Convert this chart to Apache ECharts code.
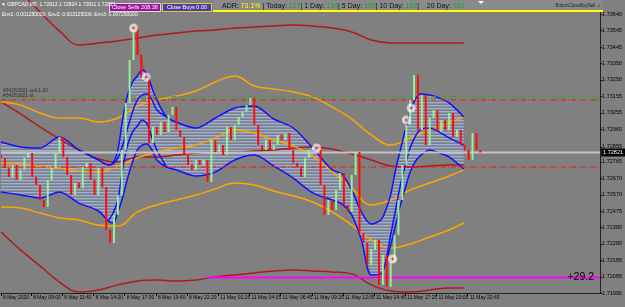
<!DOCTYPE html>
<html><head><meta charset="utf-8">
<script src="https://cdn.jsdelivr.net/npm/echarts@6/dist/echarts.min.js"></script>
<style>html,body{margin:0;padding:0;background:#808080;}#c{width:625px;height:307px;}</style>
</head><body><div id="c"></div>
<script>
// ---------- data ----------
const priceTicks = [1.71990,1.72085,1.72185,1.72280,1.72380,1.72475,1.72570,1.72670,1.72765,1.72855,1.72960,1.73055,1.73155,1.73250,1.73350,1.73445,1.73545,1.73640];
const timeTickBars = [0,31,63,95,127,159,191,223,255,287,319,351,383,415,447,479];
const timeTickLabels = ['8 May 2020','8 May 09:00','8 May 11:40','8 May 14:20','8 May 17:00','8 May 19:40','8 May 22:20','11 May 01:25','11 May 04:05','11 May 06:45','11 May 09:25','11 May 12:05','11 May 14:45','11 May 17:25','11 May 20:05','11 May 22:45'];

const barStep = 4;
const firstOpen = 1.72806;
const closes = [1.72789,1.72729,1.72676,1.72747,1.72659,1.72718,1.72789,1.72818,1.72676,1.72629,
 1.72540,1.72499,1.72659,1.72729,1.72818,1.72913,1.72795,1.72688,1.72570,1.72641,
 1.72611,1.72735,1.72759,1.72659,1.72570,1.72729,1.72617,1.72363,1.72286,1.72452,
 1.72570,1.72836,1.73114,1.73368,1.73557,1.73398,1.73268,1.73250,1.72877,1.72972,
 1.72925,1.73001,1.72942,1.73043,1.73090,1.72954,1.72913,1.72806,1.72747,1.72718,
 1.72777,1.72747,1.72777,1.72647,1.72895,1.72824,1.72865,1.72806,1.72972,1.72895,
 1.72984,1.73031,1.73061,1.73102,1.73143,1.72984,1.72865,1.72836,1.72895,1.72836,
 1.72865,1.72925,1.72895,1.72936,1.72836,1.72759,1.72735,1.72676,1.72789,1.72836,
 1.72854,1.72848,1.72629,1.72452,1.72540,1.72481,1.72599,1.72700,1.72511,1.72469,
 1.72688,1.72824,1.72345,1.72286,1.72156,1.72245,1.72304,1.72038,1.72215,1.72026,
 1.72174,1.72333,1.72540,1.72747,1.72984,1.73132,1.73279,1.72954,1.73161,1.72865,
 1.73025,1.73072,1.72942,1.73013,1.72954,1.73055,1.72913,1.72954,1.72865,1.72836,
 1.72777,1.72936,1.72836,1.72821];

const blueX = [0,20,40,60,80,100,110,115,120,125,130,135,140,145,150,155,160,170,180,200,220,240,260,280,300,320,340,350,360,370,380,390,395,400,405,410,415,420,425,430,440,450,460,475];
const blueUpper = [1.72883,1.72854,1.72848,1.72913,1.72836,1.72777,1.72747,1.72759,1.72836,1.73025,1.73161,1.73238,1.73274,1.73309,1.73285,1.73203,1.73132,1.73031,1.73001,1.72966,1.73025,1.73084,1.73096,1.73019,1.72966,1.72848,1.72718,1.72694,1.72599,1.72469,1.72398,1.72422,1.72481,1.72570,1.72718,1.72836,1.72954,1.73055,1.73132,1.73167,1.73161,1.73143,1.73114,1.73031];
const blueLower = [1.72588,1.72570,1.72552,1.72588,1.72522,1.72475,1.72416,1.72404,1.72469,1.72558,1.72670,1.72765,1.72836,1.72865,1.72871,1.72836,1.72777,1.72735,1.72718,1.72682,1.72706,1.72777,1.72806,1.72741,1.72670,1.72582,1.72540,1.72517,1.72452,1.72304,1.72097,1.72103,1.72174,1.72274,1.72392,1.72511,1.72611,1.72706,1.72765,1.72800,1.72836,1.72818,1.72795,1.72724];
const blueInnerA = [null,null,null,null,null,null,1.72747,1.72753,1.72789,1.72865,1.72966,1.73061,1.73132,1.73161,1.73167,1.73132,1.73072,1.73031,null,null,null,null,null,null,null,null,null,null,null,null,null,null,null,null,null,null,null,null,null,null,null,null,null,null];
const blueInnerB = [null,null,null,null,null,null,1.72416,1.72463,1.72540,1.72729,1.72865,1.72942,1.72978,1.73013,1.72990,1.72907,1.72836,1.72735,null,null,null,null,null,null,null,null,null,null,null,null,null,null,1.72174,1.72333,1.72481,1.72629,1.72747,1.72848,1.72913,1.72954,1.72966,1.72942,1.72907,1.72865];

const slowX = [0,20,40,60,80,100,120,140,160,180,200,220,240,260,280,300,320,340,360,380,400,420,440,460,475];
const orangeUpper = [1.73120,1.73102,1.73055,1.73025,1.73025,1.73001,1.73025,1.73096,1.73132,1.73155,1.73185,1.73238,1.73274,1.73214,1.73197,1.73179,1.73149,1.73090,1.73019,1.72925,1.72865,1.72907,1.72954,1.72996,1.73031];
const orangeMid = [1.72759,1.72753,1.72741,1.72729,1.72712,1.72706,1.72741,1.72789,1.72824,1.72848,1.72865,1.72907,1.72954,1.72936,1.72895,1.72860,1.72800,1.72706,1.72611,1.72511,1.72540,1.72599,1.72641,1.72682,1.72718];
const orangeLower = [1.72499,1.72493,1.72463,1.72434,1.72422,1.72392,1.72386,1.72469,1.72511,1.72540,1.72570,1.72605,1.72641,1.72629,1.72593,1.72564,1.72528,1.72469,1.72392,1.72304,1.72256,1.72280,1.72321,1.72363,1.72404];
const redUpper = [1.73877,1.73770,1.73652,1.73540,1.73457,1.73469,1.73481,1.73498,1.73516,1.73528,1.73540,1.73546,1.73557,1.73563,1.73569,1.73575,1.73569,1.73557,1.73534,1.73486,1.73469,1.73469,1.73469,1.73469,1.73469];
const redMid = [1.73120,1.73049,1.72972,1.72901,1.72836,1.72783,1.72765,1.72795,1.72795,1.72806,1.72818,1.72824,1.72824,1.72830,1.72836,1.72848,1.72854,1.72842,1.72812,1.72777,1.72741,1.72735,1.72741,1.72747,1.72747];
const redLower = [1.72351,1.72245,1.72150,1.72055,1.71996,1.72008,1.72038,1.72061,1.72067,1.72061,1.72067,1.72085,1.72097,1.72109,1.72120,1.72126,1.72120,1.72114,1.72103,1.72038,1.72002,1.71996,1.72008,1.72020,1.72020];

const bidPrice = 1.72821;
const levelGreen = 1.73151;
const levelRed1 = 1.73132;
const levelRed2 = 1.72735;
const profitPrice = 1.72082;
const profitStartBar = 211;
const profitText = '+29.2';
const tradeBars = [136,149,324,402,416,421];
const tradePrices = [1.73557,1.73268,1.72848,1.72191,1.73013,1.73084];
const tradeLink = [0,1];

const symbolText = '\u25BC GBPCAD,M5  1.72813 1.72824 1.72811 1.72821';
const envText = 'Env1: 0.001250000; Env2: 0.003125000; Env3: 0.007250000';
const orderLabels = ['#34283021 sell 1.00', '#34283021 sl'];

// ---------- build ----------
const FONT = 'Liberation Sans';
const X_MAX = 615;
const zip = (xs, ys) => xs.map((x, i) => [x, ys[i] == null ? '-' : ys[i]]);
const candles = closes.map((c, i) => [i * barStep, i === 0 ? firstOpen : closes[i - 1], c]);

const pc = document.createElement('canvas');
pc.width = 4; pc.height = 3;
const pctx = pc.getContext('2d');
pctx.fillStyle = 'rgba(160,185,235,0.85)'; pctx.fillRect(0, 0, 4, 1);
pctx.fillStyle = 'rgba(160,185,235,0.3)'; pctx.fillRect(0, 1, 4, 1);

function lineS(data, color, width, z, extra) {
  return Object.assign({type:'line', data, showSymbol:false, symbol:'none', silent:true, z,
    lineStyle:{color, width}, animation:false}, extra || {});
}
function hLine(price, x0, color, width, type, z, extra) {
  return lineS([[x0, price], [X_MAX, price]], color, width, z, Object.assign({lineStyle:{color, width, type}}, extra || {}));
}

const chart = echarts.init(document.getElementById('c'), null, {renderer:'canvas'});
chart.setOption({
  animation:false,
  backgroundColor:'#808080',
  grid:{left:0, right:23, top:0, bottom:14, containLabel:false},
  xAxis:{type:'value', min:0, max:X_MAX,
    axisLine:{show:true, onZero:false, lineStyle:{color:'#202020', width:1}},
    axisTick:{show:true, customValues: timeTickBars, length:3, lineStyle:{color:'#000'}},
    axisLabel:{customValues: timeTickBars, formatter: v => timeTickLabels[timeTickBars.indexOf(v)] || '',
      align:'left', fontSize:5, color:'#000', margin:2, fontFamily:FONT, padding:[0,0,0,2]},
    splitLine:{show:false}},
  yAxis:{type:'value', position:'right', min:1.71990, max:1.73723,
    axisLine:{show:true, onZero:false, lineStyle:{color:'#202020', width:1}},
    axisTick:{show:true, customValues: priceTicks, length:2, lineStyle:{color:'#000'}},
    axisLabel:{customValues: priceTicks, formatter: v => v.toFixed(5), fontSize:5.5, color:'#000', margin:2, fontFamily:FONT},
    splitLine:{show:false}},
  graphic:[
    {type:'rect', shape:{x:213, y:0, width:390, height:11}, style:{fill:'#8a8a8a'}, z:100},
    {type:'rect', shape:{x:213, y:10, width:390, height:2}, style:{fill:'#ffff00'}, z:101},
    {type:'text', x:222, y:2.5, z:102, style:{
      text:'{k|ADR:} {y|73.1%} {k|| Today:} {g|127}{k|| 1 Day:} {g|134}{k|| 5 Day:} {g|159}{k|| 10 Day:} {g|162}{k||    20 Day:} {g|162}',
      fontSize:7, fontFamily:FONT, verticalAlign:'top',
      rich:{k:{fill:'#101010', fontSize:7, fontFamily:FONT}, y:{fill:'#ffff00', fontSize:7, fontFamily:FONT}, g:{fill:'#18a818', fontSize:7, fontFamily:FONT}}}},
    {type:'text', x:601, y:5.5, z:102, style:{text:'ButtonCloseBuySell \u263A', fill:'#202020', fontSize:4.5, fontFamily:FONT, align:'right', verticalAlign:'middle'}},
    {type:'polygon', shape:{points:[[478,1],[484,1],[481,4]]}, style:{fill:'#ffffff'}, z:102},
    {type:'rect', shape:{x:109.5, y:3.5, width:51, height:8}, style:{fill:'#9c149a', stroke:'#e6d2e6', lineWidth:1}, z:100},
    {type:'text', x:135, y:7.5, z:102, style:{text:'Close Sells 208.38', fill:'#ffffff', fontSize:5.5, fontFamily:FONT, align:'center', verticalAlign:'middle'}},
    {type:'rect', shape:{x:162.5, y:3.5, width:49, height:8}, style:{fill:'#4b3e9e', stroke:'#d8d040', lineWidth:1}, z:100},
    {type:'text', x:187, y:7.5, z:102, style:{text:'Close Buys 0.00', fill:'#ffffff', fontSize:5.5, fontFamily:FONT, align:'center', verticalAlign:'middle'}},
    {type:'text', x:1, y:2, z:102, style:{text:symbolText, fill:'#ffffff', fontSize:5, fontFamily:FONT, verticalAlign:'top'}},
    {type:'text', x:2, y:12, z:102, style:{text:envText, fill:'#ffffff', fontSize:5, fontFamily:FONT, verticalAlign:'top'}},
    {type:'text', x:3, y:88.5, z:102, style:{text:orderLabels[0], fill:'#303030', fontSize:5, fontFamily:FONT, verticalAlign:'top'}},
    {type:'text', x:3, y:93.5, z:102, style:{text:orderLabels[1], fill:'#303030', fontSize:5, fontFamily:FONT, verticalAlign:'top'}},
    {type:'text', x:594, y:277, z:102, style:{text:profitText, fill:'#000000', fontSize:10.5, fontFamily:FONT, align:'right', verticalAlign:'middle'}}
  ],
  series:[
    {type:'custom', z:1, silent:true, clip:true, data:[[blueX[0], blueUpper[0]]],
      renderItem:(params, api) => {
        const pts = [];
        for (let i = 0; i < blueX.length; i++) pts.push(api.coord([blueX[i], blueUpper[i]]));
        for (let i = blueX.length - 1; i >= 0; i--) pts.push(api.coord([blueX[i], blueLower[i]]));
        return {type:'polygon', shape:{points:pts}, style:{fill:{image:pc, repeat:'repeat'}}};
      }},
    lineS(zip(slowX, redUpper), '#b01a1a', 1.5, 2, {smooth:0.4}),
    lineS(zip(slowX, redMid), '#b01a1a', 1.5, 2, {smooth:0.4}),
    lineS(zip(slowX, redLower), '#b01a1a', 1.5, 2, {smooth:0.4}),
    lineS(zip(slowX, orangeUpper), '#ffa500', 1.5, 2, {smooth:0.4}),
    lineS(zip(slowX, orangeMid), '#ffa500', 1.5, 2, {smooth:0.4}),
    lineS(zip(slowX, orangeLower), '#ffa500', 1.5, 2, {smooth:0.4}),
    lineS(zip(blueX, blueUpper), '#1010ff', 1.5, 3, {smooth:0.3}),
    lineS(zip(blueX, blueLower), '#1010ff', 1.5, 3, {smooth:0.3}),
    lineS(zip(blueX, blueInnerA), '#1010ff', 1.5, 3, {smooth:0.3}),
    lineS(zip(blueX, blueInnerB), '#1010ff', 1.5, 3, {smooth:0.3}),
    hLine(bidPrice, 0, '#c4c4c4', 2, 'solid', 4, {
      endLabel:{show:true, formatter: () => bidPrice.toFixed(5), backgroundColor:'#000', color:'#fff',
        fontSize:5.5, fontFamily:FONT, padding:[1,2], distance:1}}),
    hLine(levelGreen, 0, '#28b028', 1, [5,2,1,2], 4),
    hLine(levelRed1, 0, '#ff1010', 1, [5,2,1,2], 4),
    hLine(levelRed2, 0, '#ff1010', 1, [5,2,1,2], 4),
    hLine(profitPrice, profitStartBar, '#ff00ff', 2, 'solid', 4),
    {type:'custom', z:5, silent:true, clip:true, data:candles, encode:{x:0, y:[1,2]},
      renderItem:(params, api) => {
        const x = api.value(0), o = api.value(1), c = api.value(2);
        const a = api.coord([x, o]), b = api.coord([x, c]);
        const w = Math.max(1, api.size([barStep, 0])[0] * 0.5);
        const top = Math.min(a[1], b[1]);
        const h = Math.max(1, Math.abs(a[1] - b[1]));
        return {type:'rect', shape:{x:a[0] - w / 2, y:top, width:w, height:h},
          style:{fill: c >= o ? '#98f098' : '#ff0a0a'}};
      }},
    {type:'line', z:6, silent:true, symbol:'none',
      data: tradeLink.map(i => [tradeBars[i], tradePrices[i]]),
      lineStyle:{color:'#ff0000', width:1, type:'dotted'}},
    {type:'scatter', z:7, silent:true, symbol:'circle', symbolSize:9,
      data: tradeBars.map((b, i) => [b, tradePrices[i]]),
      itemStyle:{color:'rgba(255,255,255,0.8)'}},
    {type:'scatter', z:8, silent:true, symbol:'diamond', symbolSize:3,
      data: tradeBars.map((b, i) => [b, tradePrices[i]]),
      itemStyle:{color:'#ff0000'}}
  ]
});
</script>
</body></html>
